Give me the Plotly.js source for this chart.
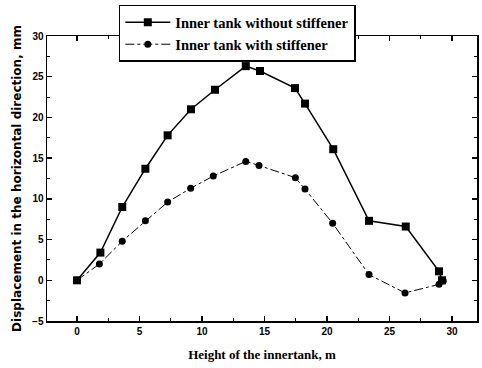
<!DOCTYPE html>
<html><head><meta charset="utf-8">
<script src="https://cdn.plot.ly/plotly-3.0.1.min.js"></script>
<style>html,body{margin:0;padding:0;background:#fff}#chart{width:482px;height:368px}</style>
</head><body><div id="chart"></div>
<script>
const xWithout = [0, 1.87, 3.62, 5.47, 7.25, 9.12, 11.04, 13.5, 14.64, 17.44, 18.24, 20.5, 23.36, 26.3, 28.96, 29.2];
const yWithout = [0, 3.4, 9.0, 13.7, 17.8, 21.0, 23.4, 26.3, 25.7, 23.6, 21.7, 16.1, 7.3, 6.6, 1.1, 0.0];
const xWith = [0, 1.79, 3.62, 5.47, 7.25, 9.09, 10.9, 13.5, 14.56, 17.47, 18.24, 20.45, 23.36, 26.24, 28.96, 29.3];
const yWith = [0, 2.0, 4.8, 7.3, 9.6, 11.3, 12.8, 14.6, 14.1, 12.6, 11.2, 7.0, 0.7, -1.55, -0.5, -0.1];
const nameWithout = "Inner tank without stiffener";
const nameWith = "Inner tank with stiffener";
const xTitle = "Height of the innertank, m";
const yTitle = "Displacement in the horizontal direction, mm";

const traces = [
  {x: xWithout, y: yWithout, name: nameWithout, mode: 'lines+markers', type: 'scatter',
   line: {color: '#000', width: 1.5}, marker: {symbol: 'square', size: 8, color: '#000'}},
  {x: xWith, y: yWith, name: nameWith, mode: 'lines+markers', type: 'scatter',
   line: {color: '#000', width: 1, dash: 'dashdot'}, marker: {symbol: 'circle', size: 7, color: '#000'}}
];
const axisCommon = {showgrid: false, zeroline: false, showline: true, linecolor: '#000', linewidth: 1.5,
  mirror: 'ticks', ticks: 'inside', ticklen: 5, tickwidth: 1.5, tickcolor: '#000',
  tickfont: {family: 'Liberation Sans', size: 10, color: '#000', weight: 'bold'}};
const layout = {
  width: 482, height: 368,
  margin: {l: 47, r: 5, t: 36, b: 47},
  paper_bgcolor: '#fff', plot_bgcolor: '#fff',
  showlegend: true,
  legend: {x: 0.167, y: 1.109, xanchor: 'left', yanchor: 'top', bgcolor: '#fff',
    bordercolor: '#000', borderwidth: 1.5, itemwidth: 45,
    font: {family: 'Liberation Serif', size: 14.5, color: '#000', weight: 'bold'}},
  xaxis: Object.assign({}, axisCommon, {range: [-2.4, 32], tickvals: [0, 5, 10, 15, 20, 25, 30],
    minor: {ticks: 'inside', ticklen: 3, tickcolor: '#000', tickwidth: 1, dtick: 2.5, tick0: 0},
    title: {text: xTitle, standoff: 14, font: {family: 'Liberation Serif', size: 13, color: '#000', weight: 'bold'}}}),
  yaxis: Object.assign({}, axisCommon, {range: [-5, 30], tickvals: [-5, 0, 5, 10, 15, 20, 25, 30],
    minor: {ticks: 'inside', ticklen: 3, tickcolor: '#000', tickwidth: 1, dtick: 2.5, tick0: 0},
    title: {text: yTitle, standoff: 8, font: {family: 'DejaVu Sans', size: 12, color: '#000', weight: 'bold'}}})
};
Plotly.newPlot('chart', traces, layout, {displayModeBar: false, staticPlot: true});
</script></body></html>
